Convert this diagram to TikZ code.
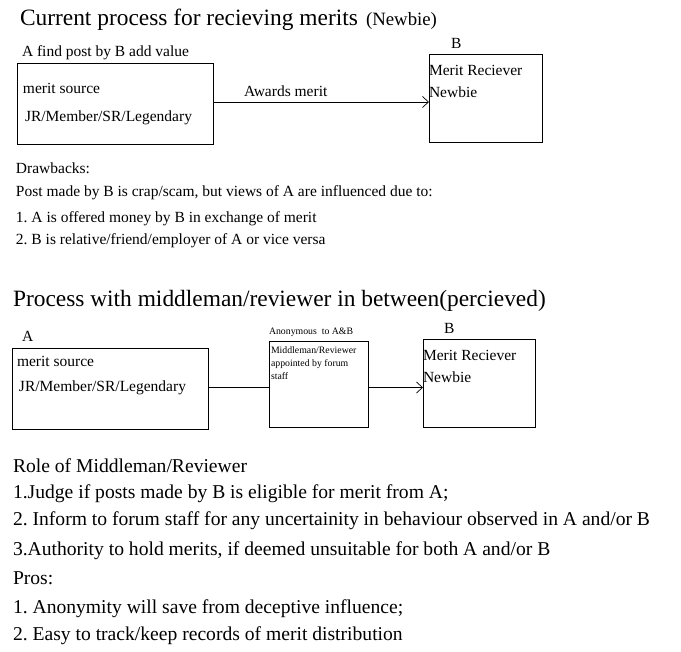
\documentclass[tikz,border=0pt]{standalone}
\usepackage{fontspec}
\setmainfont{Liberation Serif}
\usetikzlibrary{arrows.meta}
\frenchspacing
\newcommand{\fsTitle}{\fontsize{23.4}{26}\selectfont}
\newcommand{\fsNew}{\fontsize{18.8}{22}\selectfont}
\newcommand{\fsBody}{\fontsize{15.5}{18}\selectfont}
\newcommand{\fsBig}{\fontsize{19.6}{23}\selectfont}
\newcommand{\fsTiny}{\fontsize{9.8}{12}\selectfont}
\begin{document}
\begin{tikzpicture}[x=1pt,y=-1pt,
  txt/.style={anchor=base west, inner sep=0pt, outer sep=0pt},
  box/.style={draw=black, line width=0.8pt, rectangle, inner sep=0pt, outer sep=0pt},
  conn/.style={draw=black, line width=0.8pt},
  arr/.style={conn, -{Straight Barb[length=6pt,width=11pt,line width=0.7pt]}}]
\useasboundingbox (0,0) rectangle (681,652);
\fill[white] (0,0) rectangle (681,652);
% ---------- Section 1 ----------
\node[txt, font=\fsTitle] (t1) at (20,26) {Current process for recieving merits};
\node[txt, font=\fsNew] (t1b) at (366,26) {(Newbie)};
\node[txt, font=\fsBody] (la1) at (22,57) {A find post by B add value};
\node[txt, font=\fsBody] (lb1) at (451,49) {B};
\node[box, minimum width=196pt, minimum height=81pt] (A1) at (115,103.5) {};
\node[box, minimum width=113pt, minimum height=88pt] (B1) at (485.5,98) {};
\node[txt, font=\fsBody] (a1s) at (23,94) {merit source};
\node[txt, font=\fsBody] (a1r) at (25,122) {JR/Member/SR/Legendary};
\node[txt, font=\fsBody] (b1r) at (429,76) {Merit Reciever};
\node[txt, font=\fsBody] (b1n) at (429,98) {Newbie};
\coordinate (y1) at (0,102);
\draw[arr] (A1.east |- y1) -- (B1.west |- y1);
\node[txt, font=\fsBody] (aw) at (244,97) {Awards merit};
% drawbacks
\node[txt, font=\fsBody] (d0) at (16,174) {Drawbacks:};
\node[txt, font=\fsBody] (d1) at (16,197) {Post made by B is crap/scam, but views of A are influenced due to:};
\node[txt, font=\fsBody] (d2) at (16,223) {1. A is offered money by B in exchange of merit};
\node[txt, font=\fsBody] (d3) at (16,245) {2. B is relative/friend/employer of A or vice versa};
% ---------- Section 2 ----------
\node[txt, font=\fsTitle] (t2) at (13,307) {Process with middleman/reviewer in between(percieved)};
\node[txt, font=\fsBody] (la2) at (22,342) {A};
\node[box, minimum width=196pt, minimum height=81pt] (A2) at (110,388.5) {};
\node[txt, font=\fsBody] (a2s) at (17,367) {merit source};
\node[txt, font=\fsBody] (a2r) at (19,392) {JR/Member/SR/Legendary};
\node[txt, font=\fsTiny] (anon) at (269,335) {Anonymous\ \ to A\&B};
\node[box, minimum width=99pt, minimum height=86pt] (M) at (318.5,384) {};
\node[txt, font=\fsTiny] (m1) at (271,354) {Middleman/Reviewer};
\node[txt, font=\fsTiny] (m2) at (271,367) {appointed by forum};
\node[txt, font=\fsTiny] (m3) at (271,380) {staff};
\node[txt, font=\fsBody] (lb2) at (444,334) {B};
\node[box, minimum width=112pt, minimum height=88pt] (B2) at (479,383) {};
\node[txt, font=\fsBody] (b2r) at (423,361) {Merit Reciever};
\node[txt, font=\fsBody] (b2n) at (423,383) {Newbie};
\coordinate (y2) at (0,387.5);
\draw[conn] (A2.east |- y2) -- (M.west |- y2);
\draw[arr] (M.east |- y2) -- (B2.west |- y2);
% ---------- Section 3 ----------
\node[txt, font=\fsBig] (r0) at (13,473) {Role of Middleman/Reviewer};
\node[txt, font=\fsBig] (r1) at (13,499) {1.Judge if posts made by B is eligible for merit from A;};
\node[txt, font=\fsBig] (r2) at (13,526) {2. Inform to forum staff for any uncertainity in behaviour observed in A and/or B};
\node[txt, font=\fsBig] (r3) at (13,556) {3.Authority to hold merits, if deemed unsuitable for both A and/or B};
\node[txt, font=\fsBig] (p0) at (13,584) {Pros:};
\node[txt, font=\fsBig] (p1) at (13,613) {1. Anonymity will save from deceptive influence;};
\node[txt, font=\fsBig] (p2) at (13,641) {2. Easy to track/keep records of merit distribution};
\end{tikzpicture}
\end{document}
